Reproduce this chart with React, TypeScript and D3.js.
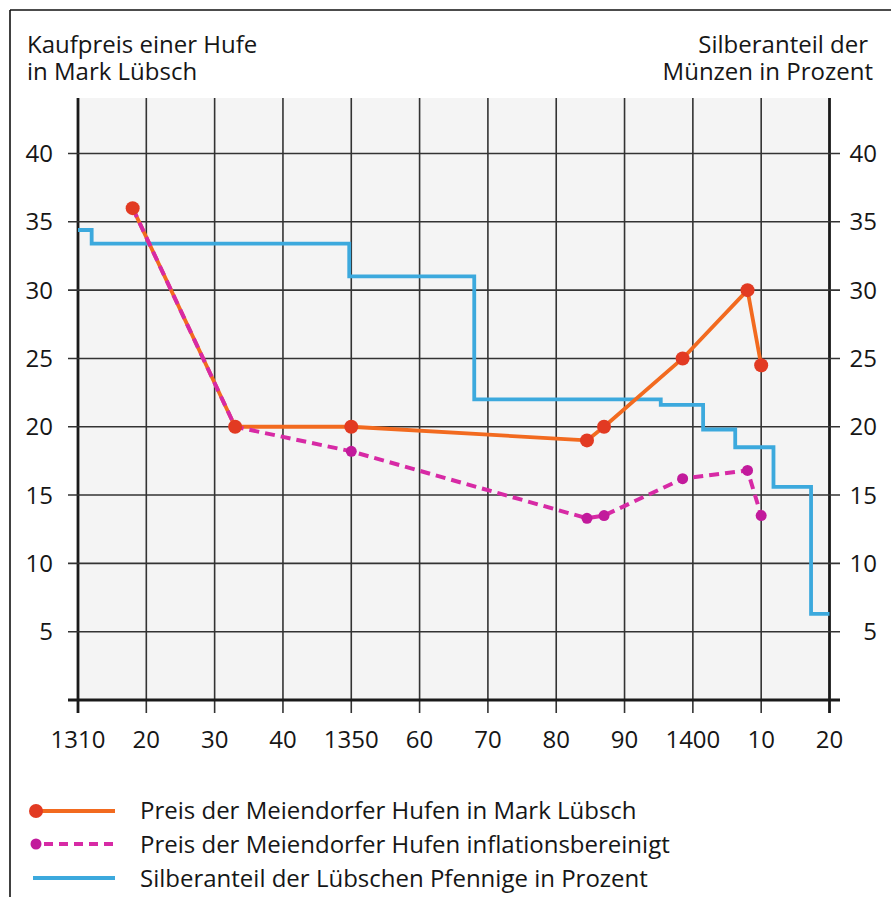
import * as d3 from "d3";

const yearTicks = [1310, 1320, 1330, 1340, 1350, 1360, 1370, 1380, 1390, 1400, 1410, 1420];
const yearLabels = ["1310", "20", "30", "40", "1350", "60", "70", "80", "90", "1400", "10", "20"];
const valueTicks = [5, 10, 15, 20, 25, 30, 35, 40];

// Preis der Meiendorfer Hufen in Mark Lübsch
const priceYears = [1318, 1333, 1350, 1384.5, 1387, 1398.5, 1408, 1410];
const priceValues = [36, 20, 20, 19, 20, 25, 30, 24.5];

// inflationsbereinigt
const realYears = [1318, 1333, 1350, 1384.5, 1387, 1398.5, 1408, 1410];
const realValues = [36, 20, 18.2, 13.3, 13.5, 16.2, 16.8, 13.5];

// Silberanteil der Lübschen Pfennige (Stufen)
const silverYears = [1310, 1312, 1349.7, 1368, 1395.3, 1401.5, 1406.2, 1411.8, 1417.3, 1420];
const silverValues = [34.4, 33.4, 31, 22, 21.6, 19.8, 18.5, 15.6, 6.3, 6.3];

const legendLabels = [
  "Preis der Meiendorfer Hufen in Mark Lübsch",
  "Preis der Meiendorfer Hufen inflationsbereinigt",
  "Silberanteil der Lübschen Pfennige in Prozent",
];

const ORANGE = "#f26a1f";
const RED = "#e23a22";
const MAGENTA = "#d72aa5";
const MAGENTA_DOT = "#c21a9c";
const BLUE = "#3ca9dd";
const GRID = "#333";
const TEXT = "#161616";
const FONT = "'Open Sans', 'DejaVu Sans', sans-serif";
const FS = 24;

export default function App() {
  const x = d3.scaleLinear().domain([1310, 1420]).range([78, 829.5]);
  const y = d3.scaleLinear().domain([0, 40]).range([700, 153.5]);
  const plotTop = 98;

  const line = d3
    .line<[number, number]>()
    .x((d) => x(d[0]))
    .y((d) => y(d[1]));
  const step = d3
    .line<[number, number]>()
    .x((d) => x(d[0]))
    .y((d) => y(d[1]))
    .curve(d3.curveStepAfter);

  const price = priceYears.map((yr, i) => [yr, priceValues[i]] as [number, number]);
  const real = realYears.map((yr, i) => [yr, realValues[i]] as [number, number]);
  const silver = silverYears.map((yr, i) => [yr, silverValues[i]] as [number, number]);

  return (
    <svg
      width={891}
      height={897}
      style={{ position: "absolute", left: 0, top: 0, background: "#fff" }}
      fontFamily={FONT}
    >
      {/* frame */}
      <line x1={10} x2={891} y1={10} y2={10} stroke="#111" strokeWidth={1.6} />
      <line x1={10} x2={10} y1={10} y2={897} stroke="#111" strokeWidth={1.6} />

      {/* titles */}
      <text fontSize={FS} fill={TEXT}>
        <tspan x={27} y={53}>Kaufpreis einer Hufe</tspan>
        <tspan x={27} y={80}>in Mark Lübsch</tspan>
      </text>
      <text fontSize={FS} fill={TEXT} textAnchor="end">
        <tspan x={868} y={53}>Silberanteil der</tspan>
        <tspan x={873} y={80}>Münzen in Prozent</tspan>
      </text>

      {/* plot background */}
      <rect x={x(1310)} y={plotTop} width={x(1420) - x(1310)} height={y(0) - plotTop} fill="#f4f4f4" />

      {/* vertical grid */}
      {yearTicks.map((t, i) => {
        const edge = i === 0 || i === yearTicks.length - 1;
        return (
          <line
            key={"v" + t}
            x1={x(t)}
            x2={x(t)}
            y1={plotTop}
            y2={713}
            stroke={edge ? "#1a1a1a" : GRID}
            strokeWidth={edge ? 2.8 : 1.6}
          />
        );
      })}

      {/* horizontal grid */}
      {valueTicks.map((v) => (
        <line key={"h" + v} x1={68} x2={840} y1={y(v)} y2={y(v)} stroke={GRID} strokeWidth={1.6} />
      ))}
      <line x1={68} x2={840} y1={y(0)} y2={y(0)} stroke="#1a1a1a" strokeWidth={2.8} />

      {/* y labels */}
      {valueTicks.map((v) => (
        <g key={"l" + v}>
          <text x={53} y={y(v) + 8.5} fontSize={FS} fill={TEXT} textAnchor="end">{v}</text>
          <text x={877} y={y(v) + 8.5} fontSize={FS} fill={TEXT} textAnchor="end">{v}</text>
        </g>
      ))}

      {/* x labels */}
      {yearTicks.map((t, i) => (
        <text key={"x" + t} x={x(t)} y={748} fontSize={FS} fill={TEXT} textAnchor="middle">
          {yearLabels[i]}
        </text>
      ))}

      {/* series */}
      <path d={step(silver) ?? ""} fill="none" stroke={BLUE} strokeWidth={3.8} />
      <path d={line(price) ?? ""} fill="none" stroke={ORANGE} strokeWidth={3.8} strokeLinejoin="round" />
      <path
        d={line(real) ?? ""}
        fill="none"
        stroke={MAGENTA}
        strokeWidth={4}
        strokeDasharray="10 6"
      />
      {real.map((d, i) => (
        <circle key={"r" + i} cx={x(d[0])} cy={y(d[1])} r={5.5} fill={MAGENTA_DOT} />
      ))}
      {price.map((d, i) => (
        <circle key={"p" + i} cx={x(d[0])} cy={y(d[1])} r={7} fill={RED} />
      ))}

      {/* legend */}
      <g>
        <line x1={36} x2={115} y1={811} y2={811} stroke={ORANGE} strokeWidth={3.8} />
        <circle cx={36} cy={811} r={7} fill={RED} />
        <line x1={44} x2={115} y1={844} y2={844} stroke={MAGENTA} strokeWidth={4} strokeDasharray="9 6" />
        <circle cx={36} cy={844} r={5.5} fill={MAGENTA_DOT} />
        <line x1={33} x2={115} y1={878} y2={878} stroke={BLUE} strokeWidth={3.8} />
        {legendLabels.map((l, i) => (
          <text key={l} x={140} y={819 + i * 34} fontSize={FS} fill={TEXT}>
            {l}
          </text>
        ))}
      </g>
    </svg>
  );
}
